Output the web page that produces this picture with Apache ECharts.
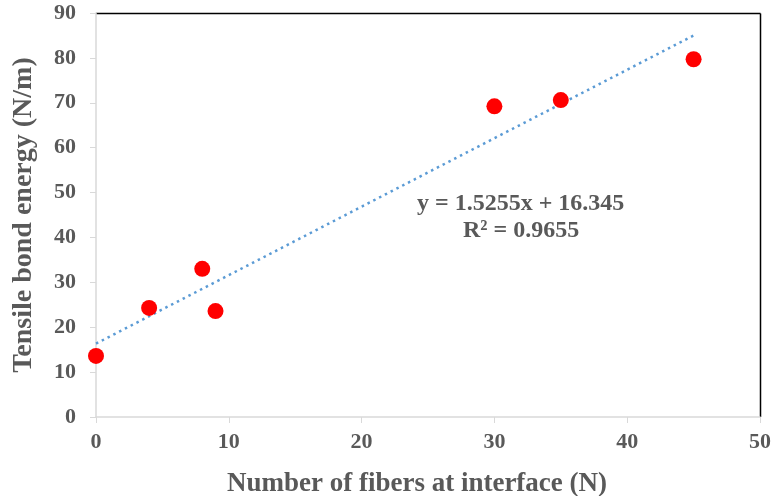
<!DOCTYPE html>
<html>
<head>
<meta charset="utf-8">
<script src="https://cdn.jsdelivr.net/npm/echarts@6/dist/echarts.min.js"></script>
<style>
  html, body { margin: 0; padding: 0; background: #fff; }
  #chart { width: 773px; height: 496px; }
</style>
</head>
<body>
<div id="chart"></div>
<script>
// measured points
const fibers = [0, 4, 8, 9, 30, 35, 45]
const energy = [13.6, 24.3, 33.0, 23.6, 69.2, 70.6, 79.7]

// linear trend as reported on the chart
const slope = 1.5255
const intercept = 16.345
const trendX = [0, 45]

const font = 'Liberation Serif, Times New Roman, serif'
const grey = '#595959'

const chart = echarts.init(document.getElementById('chart'))

chart.setOption({
  animation: false,
  textStyle: { fontFamily: font },
  grid: { left: 96, right: 13, top: 13, bottom: 79, outerBoundsMode: 'none' },
  xAxis: {
    type: 'value',
    min: 0,
    max: 50,
    interval: 10,
    name: 'Number of fibers at interface (N)',
    nameLocation: 'middle',
    nameGap: 54,
    nameTextStyle: {
      color: grey, fontSize: 27, fontWeight: 'bold', fontFamily: font,
      padding: [0, 22, 0, 0]
    },
    axisLine: { show: true, lineStyle: { color: '#d9d9d9', width: 1.5 } },
    axisTick: { show: true, length: 6, lineStyle: { color: '#d9d9d9' } },
    axisLabel: { color: grey, fontSize: 22, fontWeight: 'bold', margin: 14, fontFamily: font },
    splitLine: { show: false }
  },
  yAxis: {
    type: 'value',
    min: 0,
    max: 90,
    interval: 10,
    name: 'Tensile bond energy (N/m)',
    nameLocation: 'middle',
    nameGap: 58,
    nameTextStyle: { color: grey, fontSize: 28, fontWeight: 'bold', fontFamily: font },
    axisLine: { show: true, lineStyle: { color: '#d9d9d9', width: 1.5 } },
    axisTick: { show: true, length: 6, lineStyle: { color: '#d9d9d9' } },
    axisLabel: { color: grey, fontSize: 22, fontWeight: 'bold', margin: 20, fontFamily: font },
    splitLine: { show: false }
  },
  graphic: [
    // black frame on top and right of plot area
    { type: 'line', shape: { x1: 96, y1: 13.5, x2: 760.5, y2: 13.5 }, style: { stroke: '#000', lineWidth: 1.5 } },
    { type: 'line', shape: { x1: 760.5, y1: 13.5, x2: 760.5, y2: 417 }, style: { stroke: '#000', lineWidth: 1.5 } },
    {
      type: 'text', left: 417, top: 192,
      style: { text: 'y = 1.5255x + 16.345', fill: grey, font: 'bold 24px ' + font }
    },
    {
      type: 'text', left: 463, top: 219,
      style: { text: 'R² = 0.9655', fill: grey, font: 'bold 24px ' + font }
    }
  ],
  series: [
    {
      type: 'line',
      data: trendX.map(x => [x, slope * x + intercept]),
      showSymbol: false,
      lineStyle: { color: '#5B9BD5', width: 2.5, type: [2.5, 4] },
      z: 2
    },
    {
      type: 'scatter',
      data: fibers.map((x, i) => [x, energy[i]]),
      symbol: 'circle',
      symbolSize: 16,
      itemStyle: { color: '#FF0000', opacity: 1 },
      z: 3
    }
  ]
})
</script>
</body>
</html>
